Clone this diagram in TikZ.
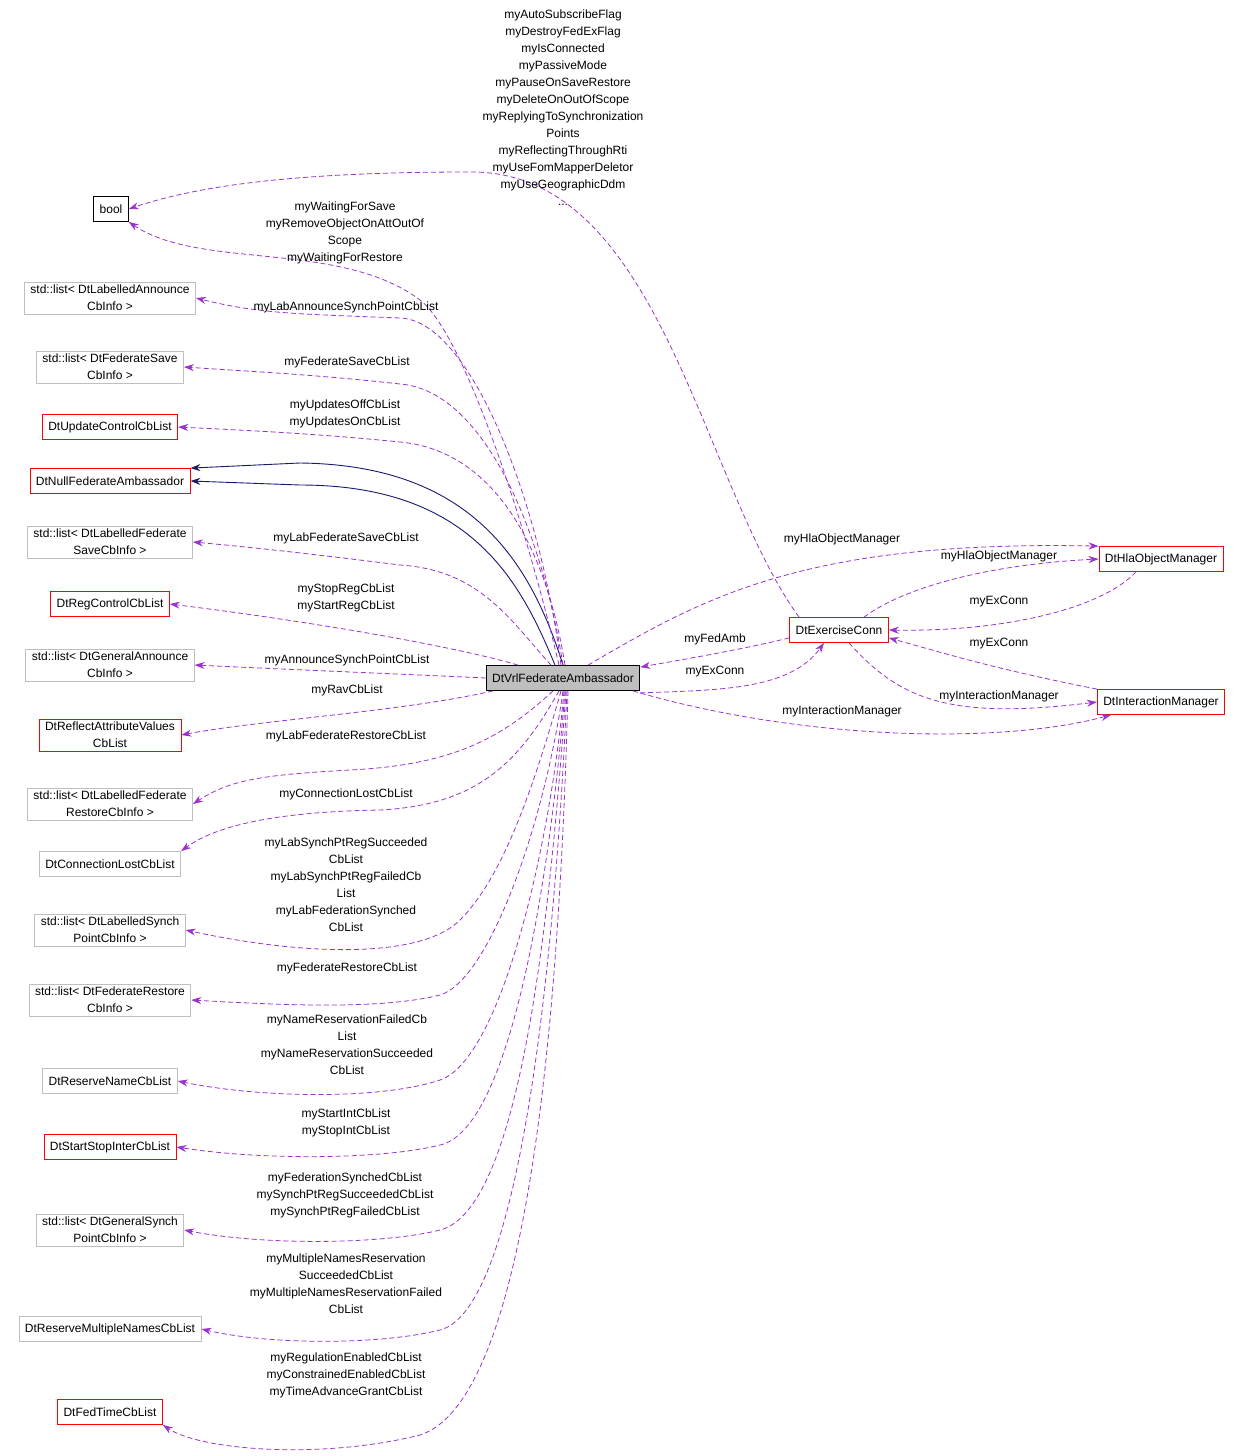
\documentclass[tikz,border=0pt]{standalone}
\usepackage{fontspec}
\setmainfont{Liberation Sans}
\usetikzlibrary{arrows.meta}
\definecolor{dep}{HTML}{9A32CD}
\definecolor{inh}{HTML}{191970}
\definecolor{gb}{HTML}{BFBFBF}
\begin{document}
\begin{tikzpicture}[x=1pt,y=-1pt,
 every node/.style={font=\fontsize{12}{17}\selectfont,align=center},
 box/.style={draw=gb,line width=0.8pt,inner xsep=6pt,inner ysep=3pt,minimum height=25pt},
 rbox/.style={box,draw=red},
 lbl/.style={inner sep=0pt},
 d/.style={draw=dep,dashed,line width=0.8pt,dash pattern=on 5pt off 3pt,-{Stealth[length=10pt,width=7pt]}},
 ih/.style={draw=inh,line width=0.9pt,-{Stealth[length=10pt,width=7pt]}}]
\useasboundingbox (0,0) rectangle (1240,1456);
\node[box,draw=black] (bool) at (111,209) {bool};
\node[box] (l1) at (110,298) {std::list< DtLabelledAnnounce\\CbInfo >};
\node[box] (l2) at (110,367) {std::list< DtFederateSave\\CbInfo >};
\node[rbox] (l3) at (110,427) {DtUpdateControlCbList};
\node[rbox] (nfa) at (110,481) {DtNullFederateAmbassador};
\node[box] (l5) at (110,542) {std::list< DtLabelledFederate\\SaveCbInfo >};
\node[rbox] (l6) at (110,604) {DtRegControlCbList};
\node[box] (l7) at (110,665) {std::list< DtGeneralAnnounce\\CbInfo >};
\node[rbox] (l8) at (110,735) {DtReflectAttributeValues\\CbList};
\node[box] (l9) at (110,804) {std::list< DtLabelledFederate\\RestoreCbInfo >};
\node[box] (l10) at (110,864) {DtConnectionLostCbList};
\node[box] (l11) at (110,930) {std::list< DtLabelledSynch\\PointCbInfo >};
\node[box] (l12) at (110,1000) {std::list< DtFederateRestore\\CbInfo >};
\node[box] (l13) at (110,1081) {DtReserveNameCbList};
\node[rbox] (l14) at (110,1147) {DtStartStopInterCbList};
\node[box] (l15) at (110,1230) {std::list< DtGeneralSynch\\PointCbInfo >};
\node[box] (l16) at (110,1329) {DtReserveMultipleNamesCbList};
\node[rbox] (l17) at (110,1412) {DtFedTimeCbList};
\node[box,draw=black,fill=gb] (vrl) at (563,678) {DtVrlFederateAmbassador};
\node[rbox] (ec) at (839,630) {DtExerciseConn};
\node[rbox] (hom) at (1161,559) {DtHlaObjectManager};
\node[rbox] (im) at (1161,702) {DtInteractionManager};

% inheritance
\draw[ih] (vrl.north) .. controls (530,560) and (470,465) .. (300,463) -- (nfa.north east);
\draw[ih] ([xshift=-8pt]vrl.north) .. controls (520,580) and (470,485) .. (300,485) -- (nfa.east);

% bool
\draw[d] ([xshift=-40pt]ec.north) .. controls (700,480) and (660,170) .. (470,172) .. controls (300,172) and (200,185) .. (bool.east);
\node[lbl] at (563,108) {myAutoSubscribeFlag\\myDestroyFedExFlag\\myIsConnected\\myPassiveMode\\myPauseOnSaveRestore\\myDeleteOnOutOfScope\\myReplyingToSynchronization\\Points\\myReflectingThroughRti\\myUseFomMapperDeletor\\myUseGeographicDdm\\...};
\draw[d] ([xshift=-4pt]vrl.north) .. controls (520,500) and (460,330) .. (420,300) .. controls (340,240) and (200,270) .. (bool.south east);
\node[lbl] at (345,233) {myWaitingForSave\\myRemoveObjectOnAttOutOf\\Scope\\myWaitingForRestore};

% left lists
\draw[d] ([xshift=-2pt]vrl.north) .. controls (540,500) and (470,320) .. (400,318) .. controls (300,314) and (260,314) .. (l1.east);
\node[lbl] at (346,307) {myLabAnnounceSynchPointCbList};
\draw[d] (vrl.north) .. controls (540,520) and (480,390) .. (400,384) .. controls (320,375) and (260,372) .. (l2.east);
\node[lbl] at (347,362) {myFederateSaveCbList};
\draw[d] ([xshift=2pt]vrl.north) .. controls (545,540) and (490,450) .. (400,442) .. controls (320,434) and (260,431) .. (l3.east);
\node[lbl] at (345,414) {myUpdatesOffCbList\\myUpdatesOnCbList};
\draw[d] ([xshift=-12pt]vrl.north) .. controls (510,620) and (480,570) .. (400,565) .. controls (320,555) and (260,548) .. (l5.east);
\node[lbl] at (346,538) {myLabFederateSaveCbList};
\draw[d] ([xshift=-45pt]vrl.north) .. controls (450,645) and (300,620) .. (l6.east);
\node[lbl] at (346,598) {myStopRegCbList\\myStartRegCbList};
\draw[d] (vrl.west) .. controls (400,674) and (300,670) .. (l7.east);
\node[lbl] at (347,660) {myAnnounceSynchPointCbList};
\draw[d] ([xshift=-70pt]vrl.south) .. controls (400,712) and (260,720) .. (l8.east);
\node[lbl] at (347,690) {myRavCbList};
\draw[d] ([xshift=-10pt]vrl.south) .. controls (500,740) and (450,765) .. (350,770) .. controls (260,775) and (230,780) .. (l9.east);
\node[lbl] at (346,736) {myLabFederateRestoreCbList};
\draw[d] ([xshift=-4pt]vrl.south) .. controls (520,760) and (480,805) .. (380,810) .. controls (260,812) and (210,830) .. (l10.north east);
\node[lbl] at (346,794) {myConnectionLostCbList};
\draw[d] ([xshift=-2pt]vrl.south) .. controls (530,800) and (500,880) .. (460,920) .. controls (420,960) and (300,955) .. (l11.east);
\node[lbl] at (346,885) {myLabSynchPtRegSucceeded\\CbList\\myLabSynchPtRegFailedCb\\List\\myLabFederationSynched\\CbList};
\draw[d] (vrl.south) .. controls (545,820) and (490,980) .. (440,995) .. controls (380,1010) and (280,1005) .. (l12.east);
\node[lbl] at (347,968) {myFederateRestoreCbList};
\draw[d] ([xshift=1pt]vrl.south) .. controls (550,850) and (500,1060) .. (440,1080) .. controls (380,1100) and (260,1098) .. (l13.east);
\node[lbl] at (347,1045) {myNameReservationFailedCb\\List\\myNameReservationSucceeded\\CbList};
\draw[d] ([xshift=2pt]vrl.south) .. controls (550,880) and (510,1130) .. (440,1145) .. controls (380,1160) and (260,1160) .. (l14.east);
\node[lbl] at (346,1123) {myStartIntCbList\\myStopIntCbList};
\draw[d] ([xshift=3pt]vrl.south) .. controls (550,920) and (520,1210) .. (440,1230) .. controls (380,1245) and (260,1245) .. (l15.east);
\node[lbl] at (345,1195) {myFederationSynchedCbList\\mySynchPtRegSucceededCbList\\mySynchPtRegFailedCbList};
\draw[d] ([xshift=4pt]vrl.south) .. controls (555,960) and (520,1310) .. (440,1330) .. controls (380,1345) and (270,1345) .. (l16.east);
\node[lbl] at (346,1284) {myMultipleNamesReservation\\SucceededCbList\\myMultipleNamesReservationFailed\\CbList};
\draw[d] ([xshift=5pt]vrl.south) .. controls (560,1000) and (530,1400) .. (420,1435) .. controls (320,1460) and (200,1450) .. (l17.south east);
\node[lbl] at (346,1375) {myRegulationEnabledCbList\\myConstrainedEnabledCbList\\myTimeAdvanceGrantCbList};

% right side
\draw[d] ([xshift=25pt]vrl.north) .. controls (700,600) and (800,540) .. (hom.north west);
\node[lbl] at (842,539) {myHlaObjectManager};
\draw[d] ([xshift=25pt]ec.north) .. controls (900,590) and (980,565) .. (hom.west);
\node[lbl] at (999,556) {myHlaObjectManager};
\draw[d] ([xshift=-25pt]hom.south) .. controls (1100,610) and (1000,632) .. (ec.east);
\node[lbl] at (999,602) {myExConn};
\draw[d] (im.north west) .. controls (1000,670) and (950,655) .. ([yshift=5pt]ec.south east);
\node[lbl] at (999,644) {myExConn};
\draw[d] ([xshift=10pt]ec.south) .. controls (900,700) and (950,720) .. (im.west);
\node[lbl] at (999,696) {myInteractionManager};
\draw[d] ([xshift=70pt]vrl.south) .. controls (800,740) and (1000,745) .. ([xshift=-50pt]im.south);
\node[lbl] at (842,711) {myInteractionManager};
\draw[d] ([yshift=5pt]ec.south west) .. controls (740,650) and (680,660) .. ([yshift=-2pt]vrl.north east);
\node[lbl] at (715,639) {myFedAmb};
\draw[d] ([yshift=-2pt]vrl.south east) .. controls (720,690) and (790,690) .. ([xshift=-15pt]ec.south);
\node[lbl] at (715,672) {myExConn};
\end{tikzpicture}
\end{document}
